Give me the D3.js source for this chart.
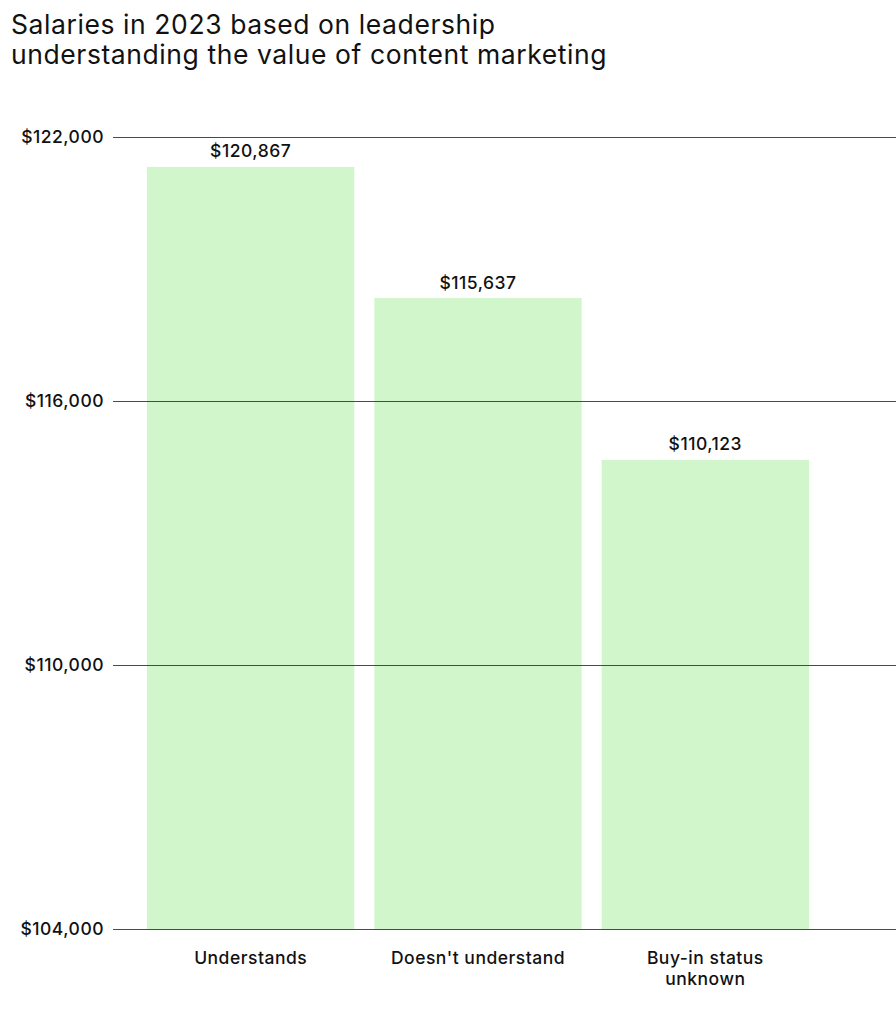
<!DOCTYPE html>
<html>
<head>
<meta charset="utf-8">
<script src="https://cdn.jsdelivr.net/npm/d3@7"></script>
<style>
  html, body { margin: 0; padding: 0; background: #fff; }
  svg { display: block; }
  text { font-family: Inter, "Noto Sans", sans-serif; fill: #111; }
</style>
</head>
<body>
<svg id="chart" width="896" height="1023"></svg>
<script>
// ---- data ----
const titleLines = ["Salaries in 2023 based on leadership", "understanding the value of content marketing"];
const categories = ["Understands", "Doesn't understand", "Buy-in status unknown"];
const categoryLines = [["Understands"], ["Doesn't understand"], ["Buy-in status", "unknown"]];
// bar heights as drawn in the picture
const barValues = [121320, 118340, 114660];
// printed value labels
const valueLabels = ["$120,867", "$115,637", "$110,123"];
const yTicks = [104000, 110000, 116000, 122000];
const yDomain = [104000, 122000];

// ---- layout ----
const svg = d3.select("#chart");
const plotLeft = 113, plotRight = 896, plotTop = 137, plotBottom = 929;
const labelSize = 17.5, labelSpacing = 0.5;

const y = d3.scaleLinear().domain(yDomain).range([plotBottom, plotTop]);
const x = d3.scaleBand().domain(categories).range([137, 819]).paddingInner(0.088).paddingOuter(0.044);

// title (one text element, two lines)
const title = svg.append("text")
  .attr("x", 11)
  .attr("y", 34)
  .attr("font-family", "'Liberation Sans', Arial, sans-serif")
  .attr("font-size", 26.5)
  .attr("letter-spacing", 0.58);
title.selectAll("tspan").data(titleLines).join("tspan")
  .attr("x", 11)
  .attr("dy", (d, i) => i === 0 ? 0 : 30)
  .text(d => d);

// bars
svg.append("g").selectAll("rect").data(categories).join("rect")
  .attr("x", d => x(d))
  .attr("width", x.bandwidth())
  .attr("y", (d, i) => y(barValues[i]))
  .attr("height", (d, i) => y(yDomain[0]) - y(barValues[i]))
  .attr("fill", "#d2f6cc");

// gridlines + y tick labels
const yAxis = d3.axisLeft(y).tickValues(yTicks)
  .tickSize(-(plotRight - plotLeft))
  .tickPadding(9)
  .tickFormat(d => "$" + d3.format(",")(d));
const gy = svg.append("g").attr("transform", `translate(${plotLeft},0)`).call(yAxis);
gy.select(".domain").remove();
gy.selectAll(".tick line").attr("stroke", "#4a4a4a").attr("stroke-width", 1);
gy.selectAll(".tick text")
  .attr("font-size", labelSize)
  .attr("letter-spacing", labelSpacing)
  .attr("font-family", "Inter, 'Noto Sans', sans-serif")
  .attr("font-weight", 500)
  .attr("fill", "#111")
  .attr("dy", "0.34em");

// value labels
svg.append("g").selectAll("text").data(categories).join("text")
  .attr("x", d => x(d) + x.bandwidth() / 2)
  .attr("y", (d, i) => y(barValues[i]) - 9.5)
  .attr("text-anchor", "middle")
  .attr("font-size", labelSize)
  .attr("letter-spacing", labelSpacing)
  .attr("font-weight", 500)
  .text((d, i) => valueLabels[i]);

// category labels
const cg = svg.append("g").selectAll("text").data(categories).join("text")
  .attr("x", d => x(d) + x.bandwidth() / 2)
  .attr("y", plotBottom + 35)
  .attr("text-anchor", "middle")
  .attr("font-size", labelSize)
  .attr("letter-spacing", labelSpacing)
  .attr("font-weight", 500);
cg.each(function(d, i) {
  const t = d3.select(this);
  categoryLines[i].forEach((line, j) => {
    t.append("tspan")
      .attr("x", x(d) + x.bandwidth() / 2)
      .attr("dy", j === 0 ? 0 : 21)
      .text(line);
  });
});
</script>
</body>
</html>
